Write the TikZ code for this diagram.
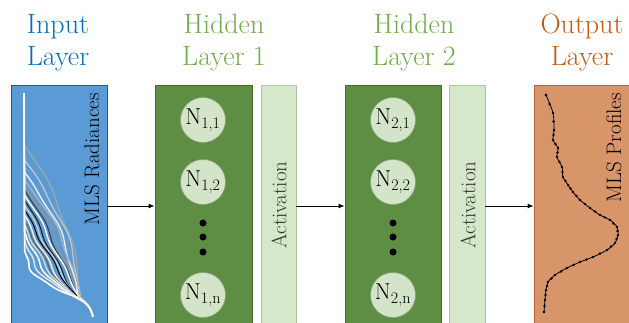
\documentclass[tikz,border=0pt]{standalone}
\usetikzlibrary{arrows.meta,calc}
\definecolor{inblue}{HTML}{5B9BD5}
\definecolor{inborder}{HTML}{2F5597}
\definecolor{titleblue}{HTML}{0070C0}
\definecolor{titlegreen}{HTML}{70AD47}
\definecolor{titleorange}{HTML}{C55A11}
\definecolor{hidfill}{HTML}{5E8E44}
\definecolor{hidborder}{HTML}{41702C}
\definecolor{actfill}{HTML}{D5E8CA}
\definecolor{actborder}{HTML}{AEC6A0}
\definecolor{neufill}{HTML}{D3E4C8}
\definecolor{neuborder}{HTML}{8CA47E}
\definecolor{outfill}{HTML}{D9956A}
\definecolor{outborder}{HTML}{C0622A}
\begin{document}
\begin{tikzpicture}[x=1pt,y=-1pt,
  declare function={cl(\u)=min(1,max(0,\u));
    gg(\u,\a)=\a*(1-(1-cl(\u))^2)+(1-\a)*cl(\u)^3;},
  title/.style={font=\fontsize{28}{30}\selectfont, anchor=base},
  layerbox/.style={rectangle, minimum height=242pt, inner sep=0pt, line width=0.9pt},
  neuron/.style={circle, fill=neufill, draw=neuborder, line width=0.6pt, minimum size=45pt, inner sep=0pt, font=\fontsize{23}{25}\selectfont},
  vlabel/.style={rotate=90, inner sep=0pt, font=\fontsize{21}{23}\selectfont},
  conn/.style={line width=0.9pt, -{Latex[length=6pt,width=5pt]}},
  ndot/.style={fill=black}
]
\useasboundingbox (0,0) rectangle (629,322);

% titles
\node[title, text=titleblue] (t1a) at (58,33) {Input};
\node[title, text=titleblue] (t1b) at (58,65) {Layer};
\node[title, text=titlegreen] (t2a) at (224,33) {Hidden};
\node[title, text=titlegreen] (t2b) at (224,65) {Layer 1};
\node[title, text=titlegreen] (t3a) at (414,33) {Hidden};
\node[title, text=titlegreen] (t3b) at (414,65) {Layer 2};
\node[title, text=titleorange] (t4a) at (582,33) {Output};
\node[title, text=titleorange] (t4b) at (582,65) {Layer};

% boxes
\node[layerbox, fill=inblue, draw=inborder, minimum width=96pt] (inbox) at (59,206) {};
\node[layerbox, fill=hidfill, draw=hidborder, minimum width=97pt] (h1box) at (203.5,206) {};
\node[layerbox, fill=actfill, draw=actborder, minimum width=35pt] (act1) at (278.5,206) {};
\node[layerbox, fill=hidfill, draw=hidborder, minimum width=96pt] (h2box) at (393,206) {};
\node[layerbox, fill=actfill, draw=actborder, minimum width=36pt] (act2) at (467,206) {};
\node[layerbox, fill=outfill, draw=outborder, minimum width=110pt] (outbox) at (589,206) {};

% radiance curves
\foreach \yk/\a/\xe/\c/\w in {
  145/1.0/78/gray!70/1.2, 160/0.95/79/gray!45/1.3, 172/0.9/77/white!85!gray/1.4,
  180/0.85/80/gray!60/1.3, 186/0.8/76/gray!85/1.2, 190/0.7/77/black!75/1.1,
  195/0.65/78/white/1.4, 200/0.6/75/black!90/1.0, 205/0.55/76/gray!40/1.3,
  210/0.5/77/black/1.0, 215/0.45/74/white!90!gray/1.4, 220/0.4/75/black!60/1.1,
  225/0.35/76/gray!30/1.3, 232/0.3/74/white/1.5, 240/0.2/75/white!80!gray/1.4,
  250/0.1/76/white/1.6}{
  \draw[color=\c, line width=\w pt]
    plot[domain=93:297, samples=90, smooth, variable=\t]
      ({24+(\t-93)*0.004+(\xe-24)*gg((\t-\yk)/(297-\yk),\a)
        +2*sin(180*cl((\t-\yk)/(297-\yk)))*sin(720*cl((\t-\yk)/(297-\yk))+7*\yk)},\t)
    .. controls (86,302) and (91,307) .. (93,317);
}
\node[vlabel, anchor=base east] (inlabel) at (99,93) {MLS Radiances};

% hidden layer 1
\node[neuron] (n11) at (203,120) {N\textsubscript{1,1}};
\node[neuron] (n12) at (203,182) {N\textsubscript{1,2}};
\node[neuron] (n1n) at (203,295) {N\textsubscript{1,n}};
\fill[ndot] (203,223) circle (3.5);
\fill[ndot] (203,237) circle (3.5);
\fill[ndot] (203,252) circle (3.5);
\node[vlabel, text=black!80] (a1label) at (279,205) {Activation};

% hidden layer 2
\node[neuron] (n21) at (393,120) {N\textsubscript{2,1}};
\node[neuron] (n22) at (393,182) {N\textsubscript{2,2}};
\node[neuron] (n2n) at (393,295) {N\textsubscript{2,n}};
\fill[ndot] (393,223) circle (3.5);
\fill[ndot] (393,237) circle (3.5);
\fill[ndot] (393,252) circle (3.5);
\node[vlabel, text=black!80] (a2label) at (468,205) {Activation};

% output profile
\draw[line width=0.8pt]
  plot[smooth] coordinates {(546,95) (553,113) (554,130) (553,140) (558,148) (557,157)
   (562,167) (563,177) (568,185) (573,192) (580,200) (590,208) (600,215) (610,220)
   (617,227) (618,235) (615,243) (607,250) (593,257) (580,262) (567,268) (555,275)
   (548,282) (546,290) (545,300) (544,312)};
\foreach \p [remember=\p as \q (initially {546,95})] in {{546,95},{553,113},{554,130},{553,140},{558,148},{557,157},
   {562,167},{563,177},{568,185},{573,192},{580,200},{590,208},{600,215},{610,220},
   {617,227},{618,235},{615,243},{607,250},{593,257},{580,262},{567,268},{555,275},
   {548,282},{546,290},{545,300},{544,312}}{
  \fill ($(\p)$) circle (1.4);
  \fill ($(\q)!0.5!(\p)$) circle (1.4);
}
\node[vlabel, anchor=base east] (outlabel) at (621,93) {MLS Profiles};

% connectors
\draw[conn] (inbox.east) -- (h1box.west);
\draw[conn] (act1.east) -- (h2box.west);
\draw[conn] (act2.east) -- (outbox.west);
\end{tikzpicture}
\end{document}
